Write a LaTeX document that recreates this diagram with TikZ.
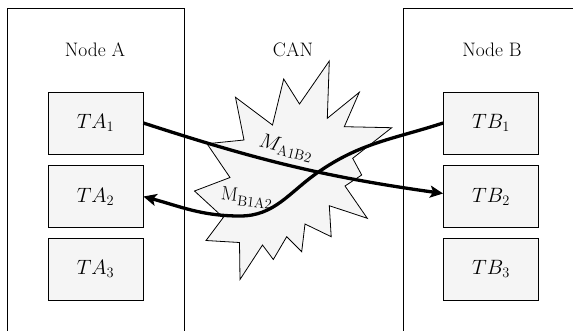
\documentclass[tikz,border=0pt]{standalone}
\usetikzlibrary{arrows.meta}
\definecolor{boxfill}{HTML}{F5F5F5}
\begin{document}
\begin{tikzpicture}[x=1pt,y=-1pt,
  txt/.style={font=\fontsize{19.5}{23}\selectfont},
  taskbox/.style={draw=black,line width=0.8pt,fill=boxfill,minimum width=95pt,minimum height=62pt,inner sep=0pt,txt},
  frame/.style={draw=black,line width=0.8pt},
  msg/.style={line width=3.3pt,-{Stealth[length=13pt,width=12pt,inset=3pt]}},
  lbl/.style={txt,inner sep=0pt}]
\useasboundingbox (0,0) rectangle (573,330);
% outer frames (open at the bottom)
\draw[frame] (7,331) -- (7,8) -- (184,8) -- (184,331);
\draw[frame] (403,331) -- (403,8) -- (575,8);
\node[lbl] (na) at (95,50) {Node A};
\node[lbl] (nb) at (492,50) {Node B};
\node[lbl] (can) at (293,50) {CAN};
% tasks
\node[taskbox] (ta1) at (95.5,123) {$TA_1$};
\node[taskbox] (ta2) at (95.5,196.5) {$TA_2$};
\node[taskbox] (ta3) at (95.5,269) {$TA_3$};
\node[taskbox] (tb1) at (491,123) {$TB_1$};
\node[taskbox] (tb2) at (491,196.5) {$TB_2$};
\node[taskbox] (tb3) at (491,269) {$TB_3$};
% CAN starburst
\draw[line width=0.8pt,fill=boxfill,line join=miter]
  (329.3,61) -- (327.3,118.3) -- (359.3,92.3) -- (344.3,126.7) -- (391.7,127.7)
  -- (352.7,158.3) -- (361.7,175) -- (345,186) -- (367.3,218.3) -- (329.3,205.7)
  -- (331.2,236.7) -- (305,224) -- (301.7,251.7) -- (286.7,236.7) -- (273.3,259.5)
  -- (262.5,245) -- (240,279.5) -- (239.5,242.5) -- (206,240.5) -- (223.3,217.5)
  -- (194.5,191) -- (230,177.5) -- (207,143.7) -- (244,140) -- (235.5,97.3)
  -- (272.5,125) -- (283.7,79) -- (299.5,104) -- cycle;
% messages
\coordinate (cross) at (317,173);
\coordinate (low) at (240,216);
\draw[msg] (ta1.east) to[out=-18,in=172] ([yshift=3pt]tb2.west);
\draw[msg] (tb1.west) to[out=198,in=35] (cross) to[out=215,in=0] (low) to[out=180,in=-15] (ta2.east);
\node[lbl,rotate=-14] (ma) at (286,148) {$M_{\mathrm{A1B2}}$};
\node[lbl,rotate=-7] (mb) at (247,198) {M$_{\mathrm{B1A2}}$};
\end{tikzpicture}
\end{document}
